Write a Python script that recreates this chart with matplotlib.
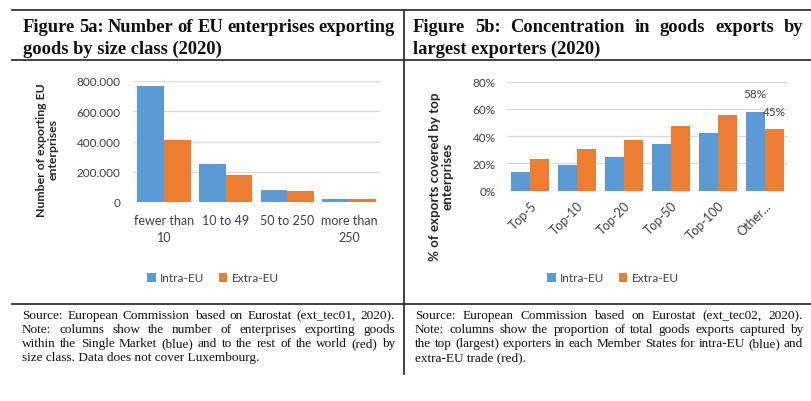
import matplotlib
matplotlib.use("Agg")
import matplotlib.pyplot as plt
import numpy as np
from matplotlib.ticker import FuncFormatter

plt.rcParams['font.family'] = ['Lato', 'DejaVu Sans']

W, H = 811, 402

# --- data ---
size_classes = ["fewer than\n10", "10 to 49", "50 to 250", "more than\n250"]
size_intra = [765000, 253000, 81000, 20000]
size_extra = [410000, 178000, 71000, 22000]

top_groups = ["Top-5", "Top-10", "Top-20", "Top-50", "Top-100", "Other..."]
top_intra = [13.5, 19, 25, 34.3, 42, 58]
top_extra = [23.3, 30.4, 37.4, 47.5, 55.5, 45]
top_labels_intra = [None, None, None, None, None, "58%"]
top_labels_extra = [None, None, None, None, None, "45%"]

series_names = ["Intra-EU", "Extra-EU"]
c_blue = "#5B9BD5"
c_orange = "#ED7D31"
grid_c = "#D9D9D9"

fig = plt.figure(figsize=(W / 100, H / 100), dpi=100)


def fx(px):
    return px / W


def fy(py):
    return 1 - py / H


def ax_rect(x0, y0, x1, y1):
    return [fx(x0), fy(y1), fx(x1) - fx(x0), fy(y0) - fy(y1)]


def style_axis(ax):
    for s in ax.spines.values():
        s.set_visible(False)
    ax.tick_params(length=0)
    ax.grid(axis='y', color=grid_c, lw=0.9)
    ax.set_axisbelow(True)


# --- Figure 5a ---
ax1 = fig.add_axes(ax_rect(133, 82, 380, 203))
x = np.arange(len(size_classes))
bw = 0.435
ax1.bar(x - bw / 2, size_intra, bw, color=c_blue, label=series_names[0])
ax1.bar(x + bw / 2, size_extra, bw, color=c_orange, label=series_names[1])
ax1.set_xlim(-0.5, len(size_classes) - 0.5)
ax1.set_ylim(0, 800000)
ax1.set_yticks(np.arange(0, 800001, 200000))
ax1.yaxis.set_major_formatter(FuncFormatter(lambda v, p: "{:,.0f}".format(v).replace(",", ".")))
ax1.set_xticks(x)
ax1.set_xticklabels(size_classes, fontsize=9, color="#404040", linespacing=1.45)
style_axis(ax1)
ax1.tick_params(axis='y', labelsize=8.5, labelcolor="#404040", pad=9)
ax1.tick_params(axis='x', pad=9)
ax1.set_ylabel("Number of exporting EU\nenterprises", fontsize=8.8, fontweight='bold',
               color="#262626", linespacing=1.05)
ax1.yaxis.set_label_coords(-0.30, 0.44)
fig.legend(*ax1.get_legend_handles_labels(), loc='center', ncol=2,
           bbox_to_anchor=(fx(213), fy(279)), frameon=False, fontsize=8.5,
           handlelength=0.7, handleheight=0.7, handletextpad=0.4, columnspacing=1.2,
           labelcolor="#404040")

# --- Figure 5b ---
ax2 = fig.add_axes(ax_rect(507, 82.7, 788, 191.7))
x2 = np.arange(len(top_groups))
bw2 = 0.405
b1 = ax2.bar(x2 - bw2 / 2, top_intra, bw2, color=c_blue, label=series_names[0])
b2 = ax2.bar(x2 + bw2 / 2, top_extra, bw2, color=c_orange, label=series_names[1])
ax2.bar_label(b1, labels=[l or "" for l in top_labels_intra], padding=9, fontsize=8.5, color="#404040")
ax2.bar_label(b2, labels=[l or "" for l in top_labels_extra], padding=9, fontsize=8.5, color="#404040")
ax2.set_xlim(-0.5, len(top_groups) - 0.5)
ax2.set_ylim(0, 80)
ax2.set_yticks(np.arange(0, 81, 20))
ax2.yaxis.set_major_formatter(FuncFormatter(lambda v, p: "{:.0f}%".format(v)))
ax2.set_xticks(x2)
ax2.set_xticklabels(top_groups, fontsize=9, color="#404040", rotation=45,
                    ha='right', rotation_mode='anchor')
style_axis(ax2)
ax2.tick_params(axis='y', labelsize=8.5, labelcolor="#404040", pad=8)
ax2.tick_params(axis='x', pad=6)
ax2.set_ylabel("% of exports covered by top\nenterprises", fontsize=9.6, fontweight='bold',
               color="#262626", linespacing=1.05)
ax2.yaxis.set_label_coords(-0.19, 0.14)
fig.legend(*ax2.get_legend_handles_labels(), loc='center', ncol=2,
           bbox_to_anchor=(fx(613), fy(279)), frameon=False, fontsize=8.5,
           handlelength=0.7, handleheight=0.7, handletextpad=0.4, columnspacing=1.2,
           labelcolor="#404040")

# --- table frame ---
line_kw = dict(color="#333333", lw=1.3, transform=fig.transFigure)
fig.add_artist(plt.Line2D([fx(12), 1], [fy(10.5), fy(10.5)], **line_kw))
fig.add_artist(plt.Line2D([fx(12), 1], [fy(61), fy(61)], **line_kw))
fig.add_artist(plt.Line2D([fx(12), 1], [fy(305), fy(305)], **line_kw))
fig.add_artist(plt.Line2D([fx(404), fx(404)], [fy(10.5), fy(375)], **line_kw))

# --- justified text helper ---
renderer = fig.canvas.get_renderer()


def put_line(text, x0, x1, y, justify=True, **kw):
    words = text.split(" ")
    if not justify or len(words) == 1:
        fig.text(fx(x0), fy(y), text, va='baseline', ha='left', **kw)
        return
    objs = [fig.text(fx(x0), fy(y), w, va='baseline', ha='left', **kw) for w in words]
    widths = [o.get_window_extent(renderer).width for o in objs]
    gap = (x1 - x0 - sum(widths)) / (len(words) - 1)
    pos = x0
    for o, wd in zip(objs, widths):
        o.set_x(fx(pos))
        pos += wd + gap


title_kw = dict(family='Liberation Serif', fontweight='bold', fontsize=13.3, color="#111111")
put_line("Figure 5a: Number of EU enterprises exporting", 23, 395, 32, **title_kw)
put_line("goods by size class (2020)", 23, 395, 54, justify=False, **title_kw)
put_line("Figure 5b: Concentration in goods exports by", 413, 803, 32, **title_kw)
put_line("largest exporters (2020)", 413, 803, 54, justify=False, **title_kw)

note_kw = dict(family='Liberation Serif', fontsize=9.5, color="#111111")
notes_left = ["Source: European Commission based on Eurostat (ext_tec01, 2020).",
              "Note: columns show the number of enterprises exporting goods",
              "within the Single Market (blue) and to the rest of the world (red) by",
              "size class. Data does not cover Luxembourg."]
notes_right = ["Source: European Commission based on Eurostat (ext_tec02, 2020).",
               "Note: columns show the proportion of total goods exports captured by",
               "the top (largest) exporters in each Member States for intra-EU (blue) and",
               "extra-EU trade (red)."]
for i, (a, b) in enumerate(zip(notes_left, notes_right)):
    yb = 319 + i * 14
    last = i == len(notes_left) - 1
    put_line(a, 22, 395, yb, justify=not last, **note_kw)
    put_line(b, 415, 803, yb, justify=not last, **note_kw)

fig.savefig("out.png", dpi=100)
